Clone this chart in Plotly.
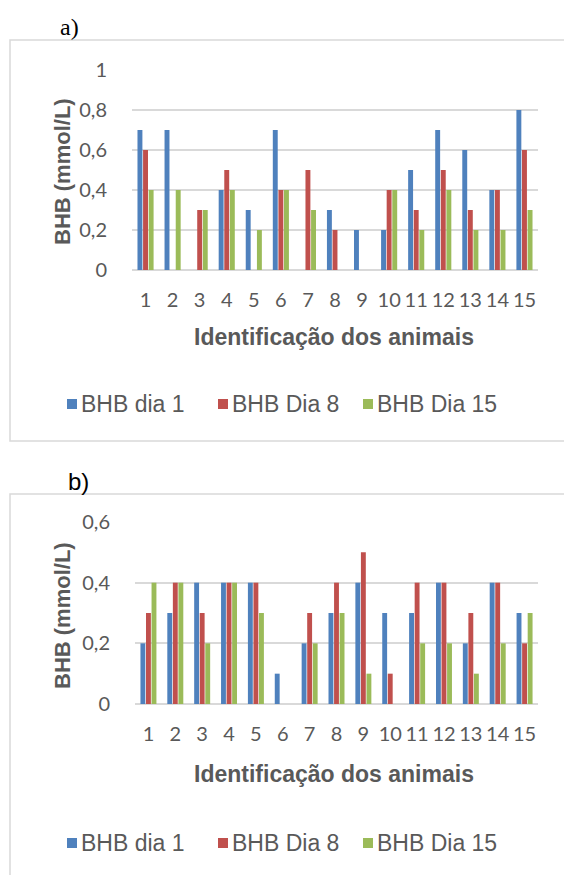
import plotly.graph_objects as go

animals = list(range(1, 15 + 1))
series_names = ["BHB dia 1", "BHB Dia 8", "BHB Dia 15"]
colors = ["#4f81bd", "#c0504d", "#9bbb59"]

a_dia1 = [0.7, 0.7, 0.0, 0.4, 0.3, 0.7, 0.0, 0.3, 0.2, 0.2, 0.5, 0.7, 0.6, 0.4, 0.8]
a_dia8 = [0.6, 0.0, 0.3, 0.5, 0.0, 0.4, 0.5, 0.2, 0.0, 0.4, 0.3, 0.5, 0.3, 0.4, 0.6]
a_dia15 = [0.4, 0.4, 0.3, 0.4, 0.2, 0.4, 0.3, 0.0, 0.0, 0.4, 0.2, 0.4, 0.2, 0.2, 0.3]

b_dia1 = [0.2, 0.3, 0.4, 0.4, 0.4, 0.1, 0.2, 0.3, 0.4, 0.3, 0.3, 0.4, 0.2, 0.4, 0.3]
b_dia8 = [0.3, 0.4, 0.3, 0.4, 0.4, 0.0, 0.3, 0.4, 0.5, 0.1, 0.4, 0.4, 0.3, 0.4, 0.2]
b_dia15 = [0.4, 0.4, 0.2, 0.4, 0.3, 0.0, 0.2, 0.3, 0.1, 0.0, 0.2, 0.2, 0.1, 0.2, 0.3]

a_tickvals = [0, 0.2, 0.4, 0.6, 0.8, 1.0]
a_ticktext = ["0", "0,2", "0,4", "0,6", "0,8", "1"]
b_tickvals = [0, 0.2, 0.4, 0.6]
b_ticktext = ["0", "0,2", "0,4", "0,6"]

x_title = "Identificação dos animais"
y_title = "BHB (mmol/L)"

W, H = 564, 875
FONT = "Arial, 'Liberation Sans', sans-serif"
TICKFONT = "Lato, 'Open Sans', sans-serif"
GRAY = "#595959"
GRID = "#d9d9d9"


def px(x):
    return x / W


def py(y):
    return 1 - y / H


fig = go.Figure()
for name, col, vals in zip(series_names, colors, [a_dia1, a_dia8, a_dia15]):
    fig.add_trace(go.Bar(x=animals, y=vals, name=name, marker=dict(color=col, line=dict(width=0)),
                         xaxis="x", yaxis="y", showlegend=False))
for name, col, vals in zip(series_names, colors, [b_dia1, b_dia8, b_dia15]):
    fig.add_trace(go.Bar(x=animals, y=vals, name=name, marker=dict(color=col, line=dict(width=0)),
                         xaxis="x2", yaxis="y2", showlegend=False))

xcommon = dict(range=[0.5, 15.5], tickvals=animals, ticktext=[str(v) for v in animals],
               showgrid=False, zeroline=False, showline=False, automargin=False,
               ticks="outside", ticklen=12, tickcolor="rgba(0,0,0,0)",
               tickfont=dict(family=TICKFONT, size=20, color=GRAY), fixedrange=True)
ycommon = dict(showgrid=True, gridcolor=GRID, gridwidth=1.5, zeroline=True, zerolinecolor=GRID,
               zerolinewidth=1.5, showline=False, ticks="outside", ticklen=20, automargin=False,
               tickcolor="rgba(0,0,0,0)", tickfont=dict(family=TICKFONT, size=20, color=GRAY),
               fixedrange=True)

fig.update_layout(
    width=W, height=H,
    margin=dict(l=0, r=0, t=0, b=0, pad=0, autoexpand=False),
    paper_bgcolor="white", plot_bgcolor="white",
    barmode="group", bargap=0.38, bargroupgap=0.12,
    xaxis=dict(domain=[px(132), px(538)], anchor="y", **xcommon),
    yaxis=dict(domain=[py(270), py(70)], anchor="x", range=[0, 1.0],
               tickvals=a_tickvals, ticktext=a_ticktext, **ycommon),
    xaxis2=dict(domain=[px(135), px(538)], anchor="y2", **xcommon),
    yaxis2=dict(domain=[py(704), py(522)], anchor="x2", range=[0, 0.6],
                tickvals=b_tickvals, ticktext=b_ticktext, **ycommon),
    showlegend=False,
    hovermode=False,
)

# chart frames
fig.add_shape(type="rect", xref="paper", yref="paper", x0=px(10), x1=px(580), y0=py(441), y1=py(40),
              line=dict(color=GRID, width=1.5), layer="below")
fig.add_shape(type="rect", xref="paper", yref="paper", x0=px(10), x1=px(580), y0=py(900), y1=py(494),
              line=dict(color=GRID, width=1.5), layer="below")

# axis titles
for cx, cy in [(334, 337), (334, 774)]:
    fig.add_annotation(text=f"<b>{x_title}</b>", xref="paper", yref="paper", x=px(cx), y=py(cy),
                       showarrow=False, xanchor="center", yanchor="middle",
                       font=dict(family=FONT, size=23, color=GRAY))
for cx, cy in [(62, 172), (62, 616)]:
    fig.add_annotation(text=f"<b>{y_title}</b>", xref="paper", yref="paper", x=px(cx), y=py(cy),
                       showarrow=False, xanchor="center", yanchor="middle", textangle=-90,
                       font=dict(family=FONT, size=22, color=GRAY))

# legends (one per chart)
legend_x = [67, 218, 363]
for ly in [404, 843]:
    for name, col, lx in zip(series_names, colors, legend_x):
        fig.add_shape(type="rect", xref="paper", yref="paper",
                      x0=px(lx), x1=px(lx + 10), y0=py(ly + 5), y1=py(ly - 5),
                      fillcolor=col, line=dict(width=0))
        fig.add_annotation(text=name, xref="paper", yref="paper", x=px(lx + 12), y=py(ly),
                           showarrow=False, xanchor="left", yanchor="middle",
                           font=dict(family=FONT, size=23, color=GRAY))

# panel labels
fig.add_annotation(text="a)", xref="paper", yref="paper", x=px(58), y=py(27), showarrow=False,
                   xanchor="left", yanchor="middle",
                   font=dict(family="'Liberation Serif', 'Times New Roman', serif", size=24, color="black"))
fig.add_annotation(text="b)", xref="paper", yref="paper", x=px(66), y=py(481), showarrow=False,
                   xanchor="left", yanchor="middle",
                   font=dict(family=FONT, size=24, color="black"))

post = (
    "document.body.style.margin='0';"
    "document.documentElement.style.overflow='hidden';"
    "document.body.style.overflow='hidden';"
)
fig.write_html("out.html", config={"displayModeBar": False}, post_script=post)
